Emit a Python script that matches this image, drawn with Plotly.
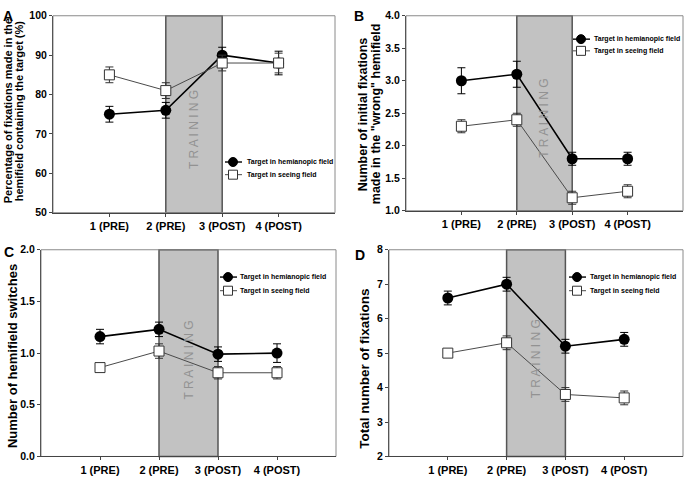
import plotly.graph_objects as go

# ---------------- data ----------------
sessions = ["1 (PRE)", "2 (PRE)", "3 (POST)", "4 (POST)"]
session_pos = [1, 2, 3, 4]

a_hemi = [75, 76, 90, 88]
a_hemi_err = [2, 2, 2, 3]
a_seeing = [85, 81, 88, 88]
a_seeing_err = [2, 2, 2, 2.5]

b_hemi = [3.0, 3.1, 1.8, 1.8]
b_hemi_err = [0.2, 0.2, 0.1, 0.1]
b_seeing = [2.3, 2.4, 1.2, 1.3]
b_seeing_err = [0.1, 0.1, 0.1, 0.1]

c_hemi = [1.16, 1.23, 0.99, 1.00]
c_hemi_err = [0.07, 0.07, 0.07, 0.09]
c_seeing = [0.86, 1.02, 0.81, 0.81]
c_seeing_err = [0.02, 0.07, 0.06, 0.06]

d_hemi = [6.6, 7.0, 5.2, 5.4]
d_hemi_err = [0.2, 0.2, 0.2, 0.2]
d_seeing = [5.0, 5.3, 3.8, 3.7]
d_seeing_err = [0.05, 0.2, 0.2, 0.2]

series_names = ["Target in hemianopic field", "Target in seeing field"]
training_window = [2, 3]

W, H = 685, 481
FONT = "Liberation Sans, Arial, sans-serif"

panels = [
    dict(letter="A", hemi=a_hemi, he=a_hemi_err, see=a_seeing, se=a_seeing_err,
         yrange=[50, 100], dtick=10, fmt="d",
         xdom=(53, 335), ydom=(10, 212),
         title=["Percentage of fixations made in the",
                "hemifield containing the target (%)"],
         title_x=[8, 19], title_y=108, title_size=11,
         letter_xy=(1, 0), train_y=0.42, leg=(233, 160, 173, 245)),
    dict(letter="B", hemi=b_hemi, he=b_hemi_err, see=b_seeing, se=b_seeing_err,
         yrange=[1, 4], dtick=0.5, fmt=".1f",
         xdom=(406, 683), ydom=(10, 210),
         title=["Number of initial fixations",
                "made in the \"wrong\" hemifield"],
         title_x=[363, 376], title_y=111, title_size=12.5,
         letter_xy=(352, 0), train_y=0.475, leg=(581, 34, 46, 592)),
    dict(letter="C", hemi=c_hemi, he=c_hemi_err, see=c_seeing, se=c_seeing_err,
         yrange=[0, 2], dtick=0.5, fmt=".1f",
         xdom=(41, 336), ydom=(250, 462),
         title=["Number of hemifield switches"],
         title_x=[12], title_y=359, title_size=13,
         letter_xy=(2, 242), train_y=0.467, leg=(228, 278, 292, 238)),
    dict(letter="D", hemi=d_hemi, he=d_hemi_err, see=d_seeing, se=d_seeing_err,
         yrange=[2, 8], dtick=1, fmt="d",
         xdom=(389, 683), ydom=(250, 462),
         title=["Total number of fixations"],
         title_x=[365], title_y=372, title_size=13.5,
         letter_xy=(353, 245), train_y=0.47, leg=(577, 278, 292, 588)),
]

fig = go.Figure()
layout = dict(width=W, height=H, margin=dict(l=0, r=0, t=0, b=0),
              paper_bgcolor="white", plot_bgcolor="white",
              font=dict(family=FONT, color="black"), showlegend=False,
              shapes=[], annotations=[])


def px(x):
    return x / W


def py(y):
    return 1 - y / H


for i, p in enumerate(panels):
    n = "" if i == 0 else str(i + 1)
    xa, ya = "x" + n, "y" + n
    fig.add_trace(go.Scatter(
        x=session_pos, y=p["hemi"], mode="lines+markers", name=series_names[0],
        xaxis=xa, yaxis=ya,
        line=dict(color="black", width=1.6),
        marker=dict(symbol="circle", size=11, color="black"),
        error_y=dict(type="data", array=p["he"], color="black", thickness=1, width=4),
    ))
    fig.add_trace(go.Scatter(
        x=session_pos, y=p["see"], mode="lines+markers", name=series_names[1],
        xaxis=xa, yaxis=ya,
        line=dict(color="#4a4a4a", width=1),
        marker=dict(symbol="square", size=10, color="white",
                    line=dict(color="#333333", width=1)),
        error_y=dict(type="data", array=p["se"], color="#333333", thickness=1, width=4),
    ))
    x0, x1 = p["xdom"]
    y0, y1 = p["ydom"]
    layout["xaxis" + n] = dict(
        domain=[px(x0), px(x1)], anchor=ya, range=[0, 5],
        tickvals=session_pos, ticktext=sessions,
        ticks="outside", ticklen=3, tickcolor="#444",
        showline=True, linecolor="#444", linewidth=1,
        showgrid=False, zeroline=False,
        tickfont=dict(family=FONT, size=11, weight="bold"),
    )
    layout["yaxis" + n] = dict(
        domain=[py(y1), py(y0)], anchor=xa, range=p["yrange"],
        dtick=p["dtick"], tick0=p["yrange"][0], tickformat=p["fmt"],
        ticks="outside", ticklen=3, tickcolor="#444",
        showline=True, linecolor="#555", linewidth=1,
        showgrid=False, zeroline=False,
        tickfont=dict(family=FONT, size=10.5, weight="bold"),
    )
    # training shading
    layout["shapes"].append(dict(
        type="rect", xref=xa, yref=ya + " domain",
        x0=training_window[0], x1=training_window[1], y0=0, y1=1,
        fillcolor="#c2c2c2", line=dict(color="#555555", width=1.5), layer="below"))
    # frame
    layout["shapes"].append(dict(
        type="rect", xref=xa + " domain", yref=ya + " domain",
        x0=0, x1=1, y0=0, y1=1, line=dict(color="#8a8a8a", width=1), layer="below"))
    # training label
    layout["annotations"].append(dict(
        text="T R A I N I N G", xref=xa, yref=ya + " domain",
        x=sum(training_window) / 2, y=p["train_y"], showarrow=False, textangle=-90,
        font=dict(family=FONT, size=12, color="#929292")))
    # y title lines
    for line_text, tx in zip(p["title"], p["title_x"]):
        layout["annotations"].append(dict(
            text=line_text, xref="paper", yref="paper",
            x=px(tx), y=py(p["title_y"]),
            xanchor="center", yanchor="middle", showarrow=False, textangle=-90,
            font=dict(family=FONT, size=p["title_size"], weight="bold")))
    # panel letter
    lx, ly = p["letter_xy"]
    layout["annotations"].append(dict(
        text=p["letter"], xref="paper", yref="paper",
        x=px(lx), y=py(ly), xanchor="left", yanchor="top", showarrow=False,
        font=dict(family=FONT, size=14, weight="bold")))
    # legend (drawn in pixel units)
    gx, gy1, gy2, tx = p["leg"]
    for gy, sym, name in [(gy1, "circle", series_names[0]), (gy2, "square", series_names[1])]:
        lc = "black" if sym == "circle" else "#4a4a4a"
        layout["shapes"].append(dict(
            type="line", xref="paper", yref="paper",
            x0=px(gx - 8), x1=px(gx + 9), y0=py(gy), y1=py(gy),
            line=dict(color=lc, width=1.4 if sym == "circle" else 1)))
        layout["shapes"].append(dict(
            type="circle" if sym == "circle" else "rect",
            xref="paper", yref="paper", xsizemode="pixel", ysizemode="pixel",
            xanchor=px(gx), yanchor=py(gy), x0=-4.5, x1=4.5, y0=-4.5, y1=4.5,
            fillcolor="black" if sym == "circle" else "white",
            line=dict(color="black" if sym == "circle" else "#333333", width=1)))
        layout["annotations"].append(dict(
            text=name, xref="paper", yref="paper", x=px(tx), y=py(gy),
            xanchor="left", yanchor="middle", showarrow=False,
            font=dict(family=FONT, size=7, weight="bold")))

fig.update_layout(**layout)
fig.write_html("out.html", config={"displayModeBar": False},
               post_script="document.body.style.margin='0px';")
